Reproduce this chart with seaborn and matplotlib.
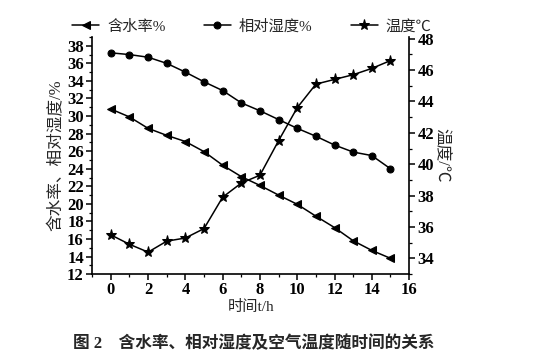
import matplotlib
matplotlib.use("Agg")
import matplotlib.pyplot as plt
import seaborn as sns
import pandas as pd
from matplotlib.ticker import MultipleLocator

sns.set_theme(style="ticks")
plt.rcParams['font.family'] = ['Liberation Serif', 'Noto Sans CJK SC', 'DejaVu Sans']

hours = list(range(16))
moisture = [30.8, 29.9, 28.6, 27.8, 27.1, 25.95, 24.4, 23.1, 22.1, 21.0, 19.95, 18.6, 17.3, 15.8, 14.7, 13.8]
humidity = [37.2, 37.0, 36.7, 36.0, 35.0, 33.9, 32.9, 31.5, 30.6, 29.6, 28.6, 27.7, 26.7, 25.9, 25.5, 24.0]
temperature = [35.5, 34.9, 34.4, 35.1, 35.3, 35.9, 37.9, 38.8, 39.3, 41.5, 43.6, 45.1, 45.4, 45.7, 46.1, 46.6]

labels = ["含水率%", "相对湿度%", "温度℃"]
left_ticks = list(range(12, 39, 2))
right_ticks = list(range(34, 49, 2))
x_ticks = list(range(0, 17, 2))

df = pd.DataFrame({"t": hours, "m": moisture, "h": humidity, "T": temperature})

fig = plt.figure(figsize=(5.39, 3.56), dpi=100)
ax = fig.add_axes([0.171, 0.230, 0.588, 0.666])
ax2 = ax.twinx()

sns.lineplot(data=df, x="t", y="m", ax=ax, color="black", lw=1.1, marker="<",
             markersize=5.5, markeredgecolor="black", label=labels[0], legend=False)
sns.lineplot(data=df, x="t", y="h", ax=ax, color="black", lw=1.1, marker="o",
             markersize=5, markeredgecolor="black", label=labels[1], legend=False)
sns.lineplot(data=df, x="t", y="T", ax=ax2, color="black", lw=1.1, marker="*",
             markersize=8, markeredgecolor="black", label=labels[2], legend=False)

ax.set_xlim(-1, 16)
ax.set_ylim(12, 39)
ax2.set_ylim(33, 48.1)
ax.set_xticks(x_ticks)
ax.set_yticks(left_ticks)
ax2.set_yticks(right_ticks)
ax.xaxis.set_minor_locator(MultipleLocator(1))
ax.yaxis.set_minor_locator(MultipleLocator(1))
ax2.yaxis.set_minor_locator(MultipleLocator(1))

for a in (ax, ax2):
    a.spines['top'].set_visible(False)
    for s in a.spines.values():
        s.set_linewidth(1.2)
        s.set_color('black')
    a.tick_params(which='major', direction='out', length=4, width=1.1, colors='black',
                  labelsize=12, pad=2)
    a.tick_params(which='minor', direction='out', length=2, width=0.9, colors='black')
    for lab in a.get_xticklabels() + a.get_yticklabels():
        lab.set_fontweight('bold')
ax2.spines['left'].set_visible(False)
ax2.spines['bottom'].set_visible(False)
ax.spines['right'].set_visible(False)

ax.set_xlabel("时间t/h", fontsize=11, labelpad=1)
ax.set_ylabel("含水率、相对湿度/%", fontsize=12, labelpad=2)
ax2.set_ylabel("温度/℃", fontsize=12, rotation=-90, labelpad=11)

h1, l1 = ax.get_legend_handles_labels()
h2, l2 = ax2.get_legend_handles_labels()
fig.legend(h1 + h2, l1 + l2, loc='center', bbox_to_anchor=(0.467, 0.925), ncol=3,
           frameon=False, fontsize=11, handlelength=1.8, columnspacing=2.5,
           handletextpad=0.5)

fig.text(0.135, 0.035, "图 2    含水率、相对湿度及空气温度随时间的关系", fontsize=12,
         fontweight='bold', ha='left', va='center')

fig.savefig("out.png", dpi=100)
